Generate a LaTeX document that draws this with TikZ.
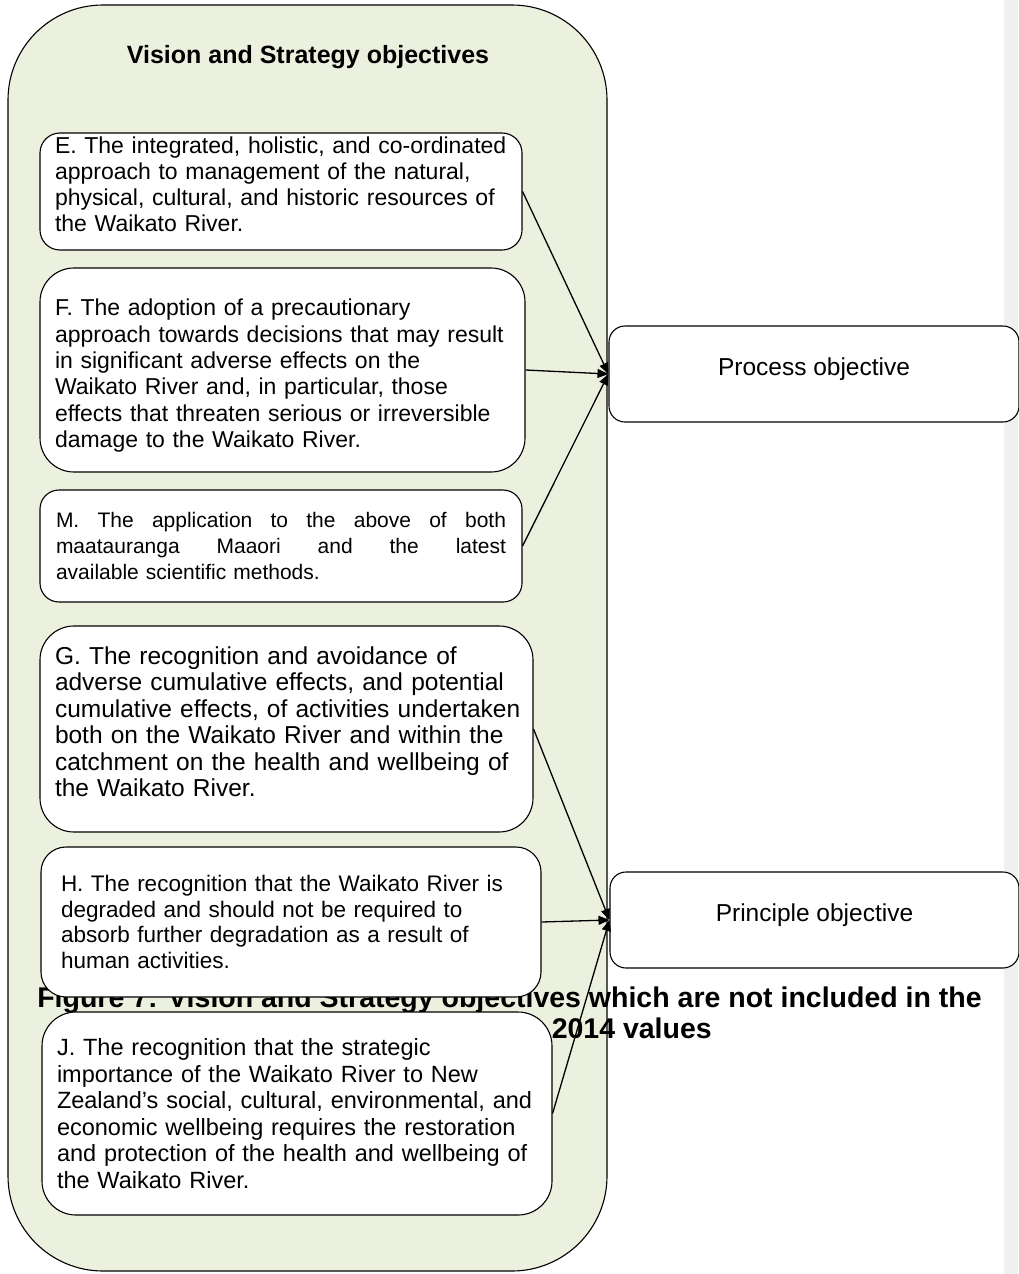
\documentclass[tikz,border=0pt]{standalone}
\usepackage{fontspec}
\setmainfont{Liberation Sans}
\usetikzlibrary{arrows.meta}
\definecolor{panelgreen}{HTML}{EBF1DE}
\definecolor{stripgrey}{HTML}{F0F0F0}
\newcommand{\jline}[1]{\makebox[450pt][s]{\spaceskip=0.28em plus 1fil\relax #1}}
\newcommand{\lowpad}[1]{\rule[-#1]{0pt}{1pt}}
\newcommand{\toppad}[1]{\rule{0pt}{#1}}
\tikzset{
  objbox/.style={draw=black, line width=1.1pt, fill=white, align=left, inner xsep=15pt, inner ysep=0pt, anchor=center},
  goalbox/.style={draw=black, line width=1.1pt, fill=white, align=center, rounded corners=16pt, inner sep=0pt, anchor=center, font=\fontsize{24.5}{27}\selectfont},
  conn/.style={line width=1.3pt, -{Triangle[length=11pt,width=9pt]}},
  capfont/.style={font=\bfseries\fontsize{28.5}{32}\selectfont},
}
\begin{document}
\begin{tikzpicture}[x=1pt,y=-1pt]
\useasboundingbox (0,0) rectangle (1018,1274);
\fill[white] (0,0) rectangle (1018,1274);
\fill[stripgrey] (1004,0) rectangle (1018,1274);
% container fill
\fill[panelgreen, rounded corners=95pt] (8,5) rectangle (607,1271);
% caption (behind the boxes)
\node[capfont, anchor=base, inner sep=0pt] (cap1) at (509.5,1007) {Figure 7: Vision and Strategy objectives which are not included in the};
\node[capfont, anchor=base east, inner sep=0pt] (cap2) at (712,1038) {2014 values};
% container border
\draw[line width=1.1pt, rounded corners=95pt] (8,5) rectangle (607,1271);
\node[font=\bfseries\fontsize{25}{28}\selectfont] (title) at (308,57) {Vision and Strategy objectives};

\node[objbox, rounded corners=20pt, text width=452pt, minimum width=482pt, minimum height=117pt, font=\fontsize{23}{26}\selectfont] (E) at (281,191.5)
  {E. The integrated, holistic, and co-ordinated\\approach to management of the natural,\\physical, cultural, and historic resources of\\the Waikato River.\lowpad{15pt}};
\node[objbox, rounded corners=34pt, text width=455pt, minimum width=485pt, minimum height=204pt, font=\fontsize{23}{26.4}\selectfont] (F) at (282.5,370)
  {\toppad{28pt}F. The adoption of a precautionary\\approach towards decisions that may result\\in significant adverse effects on the\\Waikato River and, in particular, those\\effects that threaten serious or irreversible\\damage to the Waikato River.};
\node[objbox, rounded corners=19pt, text width=450pt, inner xsep=16pt, minimum width=482pt, minimum height=112pt, font=\fontsize{21}{26}\selectfont] (M) at (281,546)
  {\jline{M. The application to the above of both}\\\jline{maatauranga Maaori and the latest}\\available scientific methods.};
\node[objbox, rounded corners=34pt, text width=463pt, minimum width=493pt, minimum height=206pt, font=\fontsize{24.5}{26.5}\selectfont] (G) at (286.5,729)
  {\mbox{G. The recognition and avoidance of}\\\mbox{adverse cumulative effects, and potential}\\\mbox{cumulative effects, of activities undertaken}\\\mbox{both on the Waikato River and within the}\\\mbox{catchment on the health and wellbeing of}\\\mbox{the Waikato River.}\lowpad{15pt}};
\node[objbox, rounded corners=25pt, text width=460pt, inner xsep=20pt, minimum width=500pt, minimum height=150pt, font=\fontsize{22.5}{25.5}\selectfont] (H) at (291,922)
  {H. The recognition that the Waikato River is\\degraded and should not be required to\\absorb further degradation as a result of\\human activities.};
\node[objbox, rounded corners=34pt, text width=480pt, minimum width=510pt, minimum height=203pt, font=\fontsize{23.5}{26.5}\selectfont] (J) at (297,1113.5)
  {\mbox{J. The recognition that the strategic}\\\mbox{importance of the Waikato River to New}\\\mbox{Zealand’s social, cultural, environmental, and}\\\mbox{economic wellbeing requires the restoration}\\\mbox{and protection of the health and wellbeing of}\\\mbox{the Waikato River.}};

\node[goalbox, minimum width=410pt, minimum height=96pt] (P) at (814,374) {\raisebox{14pt}{Process objective}};
\node[goalbox, minimum width=409pt, minimum height=96pt] (Q) at (814.5,920) {\raisebox{14pt}{Principle objective}};

\draw[conn] (E.east) -- (P.west);
\draw[conn] (F.east) -- (P.west);
\draw[conn] (M.east) -- (P.west);
\draw[conn] (G.east) -- (Q.west);
\draw[conn] (H.east) -- (Q.west);
\draw[conn] (J.east) -- (Q.west);
\end{tikzpicture}
\end{document}
